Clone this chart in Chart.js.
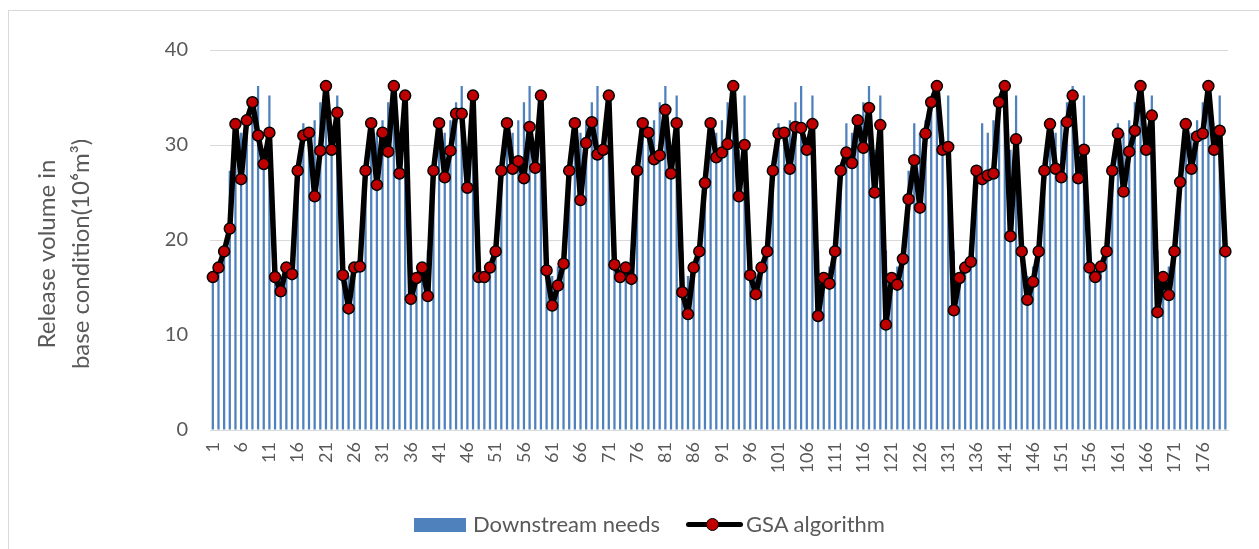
<!DOCTYPE html>
<html>
<head>
<meta charset="utf-8">
<script src="https://cdn.jsdelivr.net/npm/chart.js@4.4.1/dist/chart.umd.min.js"></script>
<style>
  body { margin: 0; background: #fff; font-family: Lato, 'Open Sans', sans-serif; }
  #wrap { position: relative; width: 1259px; height: 549px; overflow: hidden; }
  #frame { position: absolute; left: 8px; top: 10px; width: 1300px; height: 600px; border: 1px solid #d9d9d9; }
  #grafico { position: absolute; left: 0; top: 0; }
  .leg { position: absolute; color: #595959; font-size: 22px; line-height: 22px; }
  .legBox { position: absolute; left: 414px; top: 518px; width: 52px; height: 14px; background: #4f81bd; }
  .legLine { position: absolute; left: 686px; top: 522px; width: 57px; height: 5px; background: #000; border-radius: 3px; }
  .legDot { position: absolute; left: 706px; top: 518px; width: 11px; height: 11px; border-radius: 50%; background: #c00000; border: 1.5px solid #000; }
</style>
</head>
<body>
<div id="wrap">
  <div id="frame"></div>
  <canvas id="grafico" width="1259" height="549"></canvas>
  <div class="legBox"></div>
  <div class="leg" style="left:473px; top:513px;">Downstream needs</div>
  <div class="legLine"></div>
  <div class="legDot"></div>
  <div class="leg" style="left:746px; top:513px;">GSA algorithm</div>
</div>
<script>
// meses 1..180
const meses = [];
for (let i = 1; i <= 180; i++) meses.push(String(i));

// necessidade a jusante (10^6 m3), uma linha por ano
const downstreamNeeds = [
  16.2, 17.2, 18.9, 27.3, 32.3, 31.3, 32.6, 34.5, 36.2, 29.5, 35.2, 18.9,
  16.2, 17.2, 18.9, 27.3, 32.3, 31.3, 32.6, 34.5, 36.2, 29.5, 35.2, 18.9,
  16.2, 17.2, 18.9, 27.3, 32.3, 31.3, 32.6, 34.5, 36.2, 29.5, 35.2, 18.9,
  16.2, 17.2, 18.9, 27.3, 32.3, 31.3, 32.6, 34.5, 36.2, 29.5, 35.2, 18.9,
  16.2, 17.2, 18.9, 27.3, 32.3, 31.3, 32.6, 34.5, 36.2, 29.5, 35.2, 18.9,
  16.2, 17.2, 18.9, 27.3, 32.3, 31.3, 32.6, 34.5, 36.2, 29.5, 35.2, 18.9,
  16.2, 17.2, 18.9, 27.3, 32.3, 31.3, 32.6, 34.5, 36.2, 29.5, 35.2, 18.9,
  16.2, 17.2, 18.9, 27.3, 32.3, 31.3, 32.6, 34.5, 36.2, 29.5, 35.2, 18.9,
  16.2, 17.2, 18.9, 27.3, 32.3, 31.3, 32.6, 34.5, 36.2, 29.5, 35.2, 18.9,
  16.2, 17.2, 18.9, 27.3, 32.3, 31.3, 32.6, 34.5, 36.2, 29.5, 35.2, 18.9,
  16.2, 17.2, 18.9, 27.3, 32.3, 31.3, 32.6, 34.5, 36.2, 29.5, 35.2, 18.9,
  16.2, 17.2, 18.9, 27.3, 32.3, 31.3, 32.6, 34.5, 36.2, 29.5, 35.2, 18.9,
  16.2, 17.2, 18.9, 27.3, 32.3, 31.3, 32.6, 34.5, 36.2, 29.5, 35.2, 18.9,
  16.2, 17.2, 18.9, 27.3, 32.3, 31.3, 32.6, 34.5, 36.2, 29.5, 35.2, 18.9,
  16.2, 17.2, 18.9, 27.3, 32.3, 31.3, 32.6, 34.5, 36.2, 29.5, 35.2, 18.9
];

// liberacao pelo algoritmo GSA
const gsaAlgorithm = [
  16.1, 17.1, 18.8, 21.2, 32.2, 26.4, 32.6, 34.5, 31.0, 28.0, 31.3, 16.1,
  14.6, 17.1, 16.4, 27.3, 31.0, 31.3, 24.6, 29.4, 36.2, 29.5, 33.4, 16.3,
  12.8, 17.1, 17.2, 27.3, 32.3, 25.8, 31.3, 29.3, 36.2, 27.0, 35.2, 13.8,
  16.0, 17.1, 14.1, 27.3, 32.3, 26.6, 29.4, 33.3, 33.3, 25.5, 35.2, 16.1,
  16.1, 17.1, 18.8, 27.3, 32.3, 27.5, 28.3, 26.5, 31.9, 27.6, 35.2, 16.8,
  13.1, 15.2, 17.5, 27.3, 32.3, 24.2, 30.2, 32.4, 29.0, 29.5, 35.2, 17.4,
  16.1, 17.1, 15.9, 27.3, 32.3, 31.3, 28.5, 28.9, 33.7, 27.0, 32.3, 14.5,
  12.2, 17.1, 18.8, 26.0, 32.3, 28.7, 29.2, 30.1, 36.2, 24.6, 30.0, 16.3,
  14.3, 17.1, 18.8, 27.3, 31.2, 31.3, 27.5, 31.9, 31.8, 29.5, 32.2, 12.0,
  16.0, 15.4, 18.8, 27.3, 29.2, 28.1, 32.6, 29.7, 33.9, 25.0, 32.1, 11.1,
  16.0, 15.3, 18.0, 24.3, 28.4, 23.4, 31.2, 34.5, 36.2, 29.5, 29.8, 12.6,
  16.0, 17.1, 17.7, 27.3, 26.4, 26.8, 27.0, 34.5, 36.2, 20.4, 30.6, 18.8,
  13.7, 15.6, 18.8, 27.3, 32.2, 27.5, 26.6, 32.4, 35.2, 26.5, 29.5, 17.1,
  16.1, 17.2, 18.8, 27.3, 31.2, 25.1, 29.3, 31.5, 36.2, 29.5, 33.1, 12.4,
  16.1, 14.2, 18.8, 26.1, 32.2, 27.5, 30.9, 31.2, 36.2, 29.5, 31.5, 18.8
];

const yTicks = [0, 10, 20, 30, 40];
const yTitle = ['Release volume in', 'base condition(10\u2076m\u00b3)'];

const fonte = 'Lato, "Open Sans", sans-serif';
const corTexto = '#595959';

// titulo do eixo y em duas linhas
const tituloY = {
  id: 'tituloY',
  afterDraw(chart) {
    const ctx = chart.ctx;
    ctx.save();
    ctx.fillStyle = corTexto;
    ctx.font = '24px ' + fonte;
    ctx.textAlign = 'center';
    ctx.textBaseline = 'middle';
    const xs = [47, 81];
    yTitle.forEach((linha, i) => {
      ctx.save();
      ctx.translate(xs[i], 254);
      ctx.rotate(-Math.PI / 2);
      ctx.fillText(linha, 0, 0);
      ctx.restore();
    });
    ctx.restore();
  }
};

const ctx = document.getElementById('grafico').getContext('2d');

const grafico = new Chart(ctx, {
  data: {
    labels: meses,
    datasets: [
      {
        type: 'line',
        label: 'GSA algorithm',
        data: gsaAlgorithm,
        borderColor: '#000000',
        borderWidth: 5.5,
        borderJoinStyle: 'round',
        borderCapStyle: 'round',
        pointRadius: 5.5,
        pointBackgroundColor: '#c00000',
        pointBorderColor: '#000000',
        pointBorderWidth: 1.5,
        tension: 0,
        order: 0
      },
      {
        type: 'bar',
        label: 'Downstream needs',
        data: downstreamNeeds,
        backgroundColor: '#4f81bd',
        barPercentage: 0.4,
        categoryPercentage: 1.0,
        order: 1
      }
    ]
  },
  options: {
    responsive: false,
    animation: false,
    layout: { padding: { left: 0, right: 10, top: 50, bottom: 59 } },
    plugins: {
      legend: { display: false },
      tooltip: { enabled: false }
    },
    scales: {
      x: {
        afterFit: (scale) => { scale.height = 60; },
        grid: { display: true, drawOnChartArea: false, drawTicks: false },
        border: { display: true, color: '#d9d9d9', width: 1 },
        ticks: {
          autoSkip: false,
          minRotation: 90,
          maxRotation: 90,
          padding: 12,
          color: corTexto,
          font: { family: fonte, size: 18 },
          callback: function (value, index) {
            return index % 5 === 0 ? this.getLabelForValue(value) : '';
          }
        }
      },
      y: {
        min: yTicks[0],
        max: yTicks[yTicks.length - 1],
        afterFit: (scale) => { scale.width = 210; },
        afterBuildTicks: (scale) => { scale.ticks = yTicks.map(v => ({ value: v })); },
        grid: { color: '#d9d9d9', lineWidth: 1, drawTicks: false },
        border: { display: false },
        ticks: {
          padding: 22,
          color: corTexto,
          font: { family: fonte, size: 20 }
        }
      }
    }
  },
  plugins: [tituloY]
});
</script>
</body>
</html>
